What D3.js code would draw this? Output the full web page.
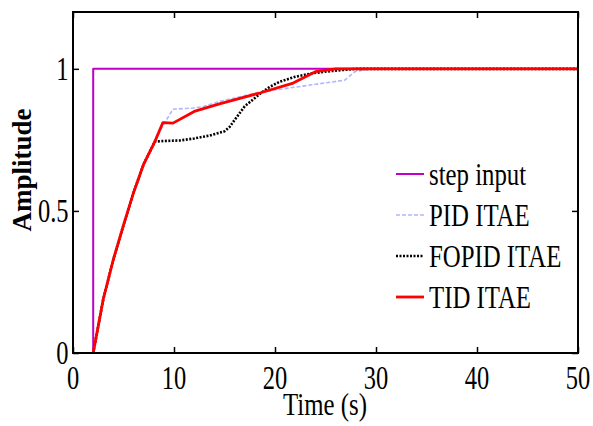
<!DOCTYPE html>
<html><head><meta charset="utf-8">
<script src="https://cdn.jsdelivr.net/npm/d3@7"></script>
<style>html,body{margin:0;padding:0;background:#fff;}svg{display:block;}</style>
</head><body>
<svg id="c" width="593" height="426"></svg>
<script>
// ---- data ----
const xTicks = [0, 10, 20, 30, 40, 50];
const yTicks = [0, 0.5, 1];
const yTickLabels = ["0", "0.5", "1"];
const seriesNames = ["step input", "PID ITAE", "FOPID ITAE", "TID ITAE"];
const stepT = [0, 2, 2, 50];
const stepY = [0, 0, 1, 1];
const pidT = [2, 3, 4, 5, 6, 7, 8.1, 8.9, 9.9, 11.9, 12.9, 14.5, 18.5, 26.9, 27.9, 29.5, 50];
const pidY = [0, 0.19, 0.33, 0.45, 0.565, 0.665, 0.744, 0.80, 0.858, 0.862, 0.867, 0.885, 0.918, 0.960, 0.99, 1.0, 1.0];
const fopidT = [2, 3, 4, 5, 6, 7, 8.1, 9, 10.6, 12, 13.5, 15, 15.5, 16, 17, 18.5, 19.5, 20.5, 22, 23.8, 25.5, 28, 50];
const fopidY = [0, 0.19, 0.33, 0.45, 0.565, 0.665, 0.744, 0.746, 0.748, 0.755, 0.765, 0.78, 0.795, 0.82, 0.868, 0.912, 0.937, 0.955, 0.972, 0.985, 0.992, 1.0, 1.0];
const tidT = [2, 3, 4, 5, 6, 7, 8.1, 8.9, 9.9, 12, 14.5, 18.5, 21.8, 24, 26, 50];
const tidY = [0, 0.19, 0.33, 0.45, 0.565, 0.665, 0.744, 0.811, 0.809, 0.85, 0.877, 0.915, 0.95, 0.99, 1.0, 1.0];

// ---- layout ----
const L = 73, R = 578, T = 12, B = 353;
const svg = d3.select("#c");
const x = d3.scaleLinear().domain([0, 50]).range([L, R]);
const y = d3.scaleLinear().domain([0, 1.2]).range([B, T]);
const FONT = "'Liberation Serif','Times New Roman',serif";

function txt(g, px, py, s, size, sx, anchor, weight) {
  return g.append("text")
    .attr("transform", `translate(${px},${py}) scale(${sx},1)`)
    .attr("text-anchor", anchor)
    .attr("font-family", FONT)
    .attr("font-size", size)
    .attr("font-weight", weight || "normal")
    .attr("fill", "#000")
    .text(s);
}

// ticks (inward, all four sides)
const tickStyle = g => { g.select(".domain").remove(); g.selectAll("line").attr("stroke", "#000").attr("stroke-width", 1.5); };
svg.append("g").attr("transform", `translate(0,${B})`).call(d3.axisBottom(x).tickValues(xTicks).tickSize(-6).tickFormat("")).call(tickStyle);
svg.append("g").attr("transform", `translate(0,${T})`).call(d3.axisTop(x).tickValues(xTicks).tickSize(-6).tickFormat("")).call(tickStyle);
svg.append("g").attr("transform", `translate(${L},0)`).call(d3.axisLeft(y).tickValues(yTicks).tickSize(-6).tickFormat("")).call(tickStyle);
svg.append("g").attr("transform", `translate(${R},0)`).call(d3.axisRight(y).tickValues(yTicks).tickSize(-6).tickFormat("")).call(tickStyle);

// lines
const mk = (ts, ys) => ts.map((t, i) => [t, ys[i]]);
const line = d3.line().x(d => x(d[0])).y(d => y(d[1]));
const plot = svg.append("g");
const styles = [
  {stroke: "#c000c8", w: 2.0, dash: null},
  {stroke: "#b0b6ff", w: 1.6, dash: "4,2"},
  {stroke: "#000", w: 2.6, dash: "2,1.5"},
  {stroke: "#ff0000", w: 2.8, dash: null}
];
const data = [mk(stepT, stepY), mk(pidT, pidY), mk(fopidT, fopidY), mk(tidT, tidY)];
data.forEach((d, i) => {
  plot.append("path").attr("d", line(d)).attr("fill", "none")
    .attr("stroke", styles[i].stroke).attr("stroke-width", styles[i].w)
    .attr("stroke-dasharray", styles[i].dash).attr("stroke-linejoin", "round");
});

// box
svg.append("rect").attr("x", L).attr("y", T).attr("width", R - L).attr("height", B - T)
  .attr("fill", "none").attr("stroke", "#000").attr("stroke-width", 2);

// tick labels
xTicks.forEach(v => txt(svg, x(v), 389, String(v), 34, 0.72, "middle"));
yTicks.forEach((v, i) => txt(svg, 68.5, y(v) + 11, yTickLabels[i], 34, 0.72, "end"));

// axis titles
txt(svg, 325, 415, "Time (s)", 31, 0.8, "middle");
svg.append("text").attr("transform", "translate(31,170) rotate(-90)")
  .attr("text-anchor", "middle").attr("font-family", FONT).attr("font-size", 27)
  .attr("font-weight", "bold").text("Amplitude");

// legend
const lg = svg.append("g");
seriesNames.forEach((n, i) => {
  const ly = 174 + i * 41;
  lg.append("line").attr("x1", 396).attr("x2", 424).attr("y1", ly).attr("y2", ly)
    .attr("stroke", styles[i].stroke).attr("stroke-width", styles[i].w).attr("stroke-dasharray", styles[i].dash);
  txt(lg, 429, ly + 11, n, 31, 0.8, "start");
});
</script>
</body></html>
